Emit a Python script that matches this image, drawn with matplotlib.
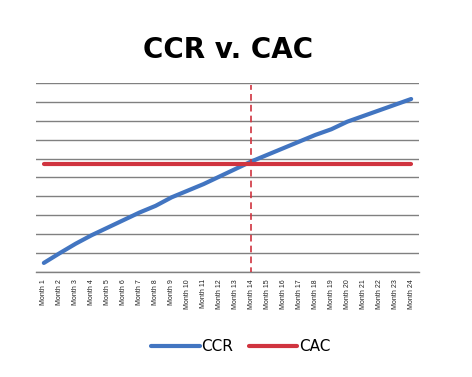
import matplotlib
matplotlib.use("Agg")
import matplotlib.pyplot as plt

months = [f"Month {i}" for i in range(1, 25)]
ccr = [0.48, 1.0, 1.5, 1.95, 2.35, 2.75, 3.15, 3.5, 3.95, 4.3, 4.65, 5.05,
       5.45, 5.85, 6.2, 6.55, 6.9, 7.25, 7.55, 7.95, 8.25, 8.55, 8.85, 9.15]
cac = [5.7] * 24
breakeven_month = "Month 14"

fig = plt.figure(figsize=(4.72, 3.77), dpi=100)
ax = fig.add_axes([0.076, 0.2785, 0.812, 0.5015])

x = list(range(len(months)))
ax.plot(x, ccr, color="#4275C1", lw=3, solid_capstyle="round", label="CCR", zorder=3)
ax.plot(x, cac, color="#D0343F", lw=3, solid_capstyle="round", label="CAC", zorder=3)
bx = months.index(breakeven_month)
ax.axvline(bx, ymin=-0.01, ymax=0.99, color="#D0343F", lw=1.2, dashes=(4, 2.5), zorder=4)

ax.set_xlim(-0.5, len(months) - 0.5)
ax.set_ylim(0, 10)
ax.set_yticks(range(0, 11))
ax.yaxis.grid(True, color="#808080", lw=1)
ax.set_axisbelow(True)
ax.tick_params(axis="y", left=False, labelleft=False)
ax.tick_params(axis="x", length=0, pad=5)
ax.set_xticks(x)
ax.set_xticklabels(months, rotation=90, fontsize=5, family="Liberation Sans", color="#222222")
for s in ["top", "right", "left"]:
    ax.spines[s].set_visible(False)
ax.spines["bottom"].set_color("#808080")
ax.spines["bottom"].set_linewidth(1)

fig.text(0.483, 0.867, "CCR v. CAC", ha="center", va="center", fontsize=20,
         fontweight="bold", family="DejaVu Sans")

leg = fig.legend(loc="center", bbox_to_anchor=(0.51, 0.08), ncol=2, frameon=False,
                 prop={"family": "DejaVu Sans", "size": 11}, handlelength=3.2,
                 handletextpad=0.1, columnspacing=1.0)

fig.savefig("out.png", dpi=100)
